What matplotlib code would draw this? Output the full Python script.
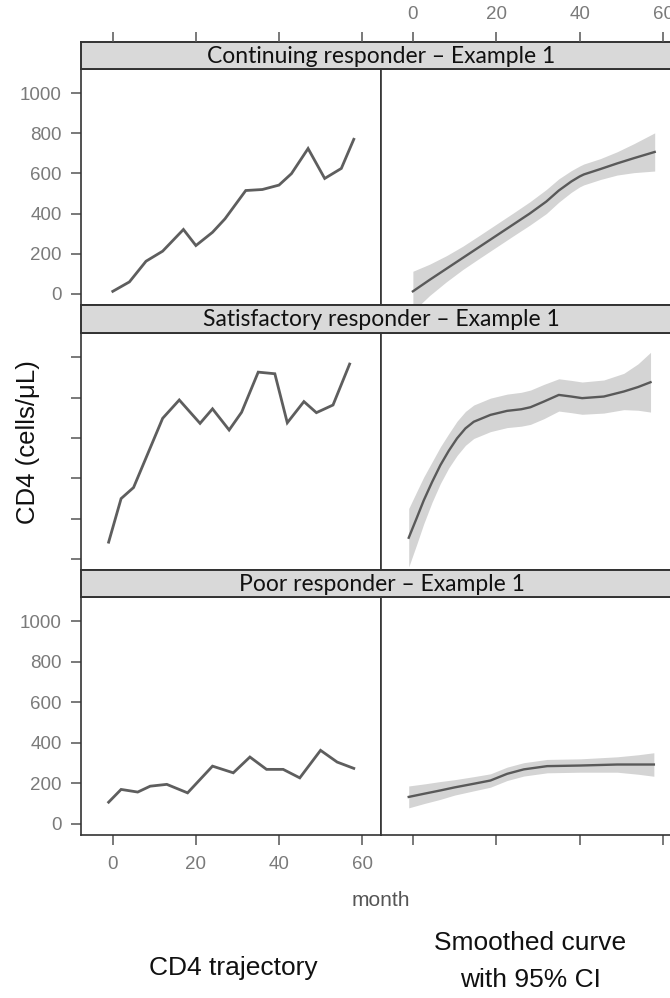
import matplotlib
matplotlib.use("Agg")
import matplotlib.pyplot as plt
import numpy as np

# ---- data -------------------------------------------------------------
strip_labels = [
    "Continuing responder \u2013 Example 1",
    "Satisfactory responder \u2013 Example 1",
    "Poor responder \u2013 Example 1",
]

# observed CD4 trajectories (month, cells/uL)
cont_month = [0, 4, 8, 12, 17, 20, 24, 27, 32, 36, 40, 43, 47, 51, 55, 58]
cont_cd4 = [13, 60, 163, 213, 321, 241, 307, 374, 515, 520, 542, 599, 724, 575, 625, 770]

sat_month = [-1, 2, 5, 12, 16, 21, 24, 28, 31, 35, 39, 42, 46, 49, 53, 57]
sat_cd4 = [83, 299, 354, 697, 788, 672, 744, 639, 727, 926, 918, 675, 780, 725, 763, 966]

poor_month = [-1, 2, 6, 9, 13, 18, 24, 29, 33, 37, 41, 45, 50, 54, 58]
poor_cd4 = [107, 170, 157, 186, 195, 153, 285, 252, 330, 269, 269, 227, 363, 305, 274]

# smoothed curves with 95% CI half-widths
cont_s_month = [0, 4, 8, 12, 16, 20, 24, 28, 32, 35, 38, 40, 41, 45, 49, 53, 58]
cont_s_fit = [13, 70, 125, 180, 235, 290, 345, 400, 460, 515, 560, 585, 595, 622, 650, 676, 707]
cont_s_hw = [100, 78, 65, 58, 57, 57, 57, 58, 60, 58, 54, 52, 52, 52, 58, 72, 95]

sat_s_month = [-1, 1, 2.6, 4.6, 6.6, 8.6, 10.6, 12.6, 14.6, 18.6, 22.6, 26, 28.2, 31.4,
               35, 38, 40.6, 45.8, 50.6, 54, 57]
sat_s_fit = [105, 207, 290, 381, 465, 536, 598, 647, 680, 714, 734, 742, 752, 780,
             813, 805, 797, 805, 830, 852, 876]
sat_s_hw = [145, 130, 116, 100, 91, 85, 85, 84, 83, 83, 83, 84, 85, 85,
            80, 80, 80, 82, 90, 115, 148]

poor_s_month = [-1, 3, 6.6, 10, 14.6, 18.6, 22.6, 26.6, 32.2, 40.2, 49, 54, 57.8]
poor_s_fit = [133, 150, 165, 180, 198, 214, 247, 269, 285, 288, 293, 293, 293]
poor_s_hw = [54, 48, 44, 38, 35, 33, 33, 33, 33, 33, 38, 48, 58]

raw = [(cont_month, cont_cd4), (sat_month, sat_cd4), (poor_month, poor_cd4)]
smooth = [(cont_s_month, cont_s_fit, cont_s_hw),
          (sat_s_month, sat_s_fit, sat_s_hw),
          (poor_s_month, poor_s_fit, poor_s_hw)]

y_ticks = [0, 200, 400, 600, 800, 1000]
x_ticks = [0, 20, 40, 60]

# ---- layout -------------------------------------------------------------
W, H = 670, 998
fig = plt.figure(figsize=(W / 100, H / 100), dpi=100)
fig.patch.set_facecolor("white")


def box(x0, y0, x1, y1):
    return [x0 / W, 1 - y1 / H, (x1 - x0) / W, (y1 - y0) / H]


XL = (-7.65, 64.55)
YL = (-55, 1120)
edge = "#333333"
tick_c = "#555555"
lab_c = "#7a7a7a"
line_c = "#5e5e5e"
band_c = "#d4d4d4"
strip_c = "#d9d9d9"
tick_len = 7.3
tick_w = 1.1
lab_size = 13.5
sans = ["Liberation Sans", "DejaVu Sans"]

strip_tops = [42, 305, 570]
panel_tops = [69, 333, 597]
panel_bots = [305, 570, 835]
xl, xm, xr = 81, 381, 682


def style_panel(ax):
    ax.set_xlim(*XL)
    ax.set_ylim(*YL)
    for s in ax.spines.values():
        s.set_color(edge)
        s.set_linewidth(1.2)
    ax.tick_params(which="both", direction="out", length=tick_len, width=tick_w,
                   color=tick_c, labelcolor=lab_c, labelsize=lab_size, pad=6.5)
    ax.set_xticks([])
    ax.set_yticks([])


for r in range(3):
    top, bot = panel_tops[r], panel_bots[r]
    axl = fig.add_axes(box(xl, top, xm, bot))
    axr = fig.add_axes(box(xm, top, xr, bot))
    style_panel(axl)
    style_panel(axr)

    m, v = raw[r]
    axl.plot(m, v, color=line_c, lw=2.0, solid_joinstyle="miter")

    sm, sf, sh = (np.asarray(a, dtype=float) for a in smooth[r])
    axr.fill_between(sm, sf - sh, sf + sh, color=band_c, lw=0)
    axr.plot(sm, sf, color="#595959", lw=1.7)

    # alternating y axis annotation on the left column
    axl.set_yticks(y_ticks)
    if r == 1:
        axl.set_yticklabels([])
    else:
        axl.set_yticklabels([str(t) for t in y_ticks], fontfamily=sans)

    if r == 2:
        axl.set_xticks(x_ticks)
        axl.set_xticklabels([str(t) for t in x_ticks], fontfamily=sans)
        axl.tick_params(axis="x", pad=7.5)
        axr.set_xticks(x_ticks)
        axr.set_xticklabels([])

    # strip across both columns
    st = fig.add_axes(box(xl, strip_tops[r], xr, top))
    st.set_facecolor(strip_c)
    st.set_xticks([])
    st.set_yticks([])
    for s in st.spines.values():
        s.set_color(edge)
        s.set_linewidth(1.4)
    st.text(0.5, 0.47, strip_labels[r], ha="center", va="center",
            transform=st.transAxes, fontsize=16.5, color="#111111",
            family=["Lato", "DejaVu Sans"])

# top axis ticks above the first strip
for x0, x1, labels in [(xl, xm, False), (xm, xr, True)]:
    ta = fig.add_axes(box(x0, strip_tops[0], x1, panel_tops[0]))
    ta.patch.set_alpha(0)
    for s in ta.spines.values():
        s.set_visible(False)
    ta.set_xlim(*XL)
    ta.set_yticks([])
    ta.xaxis.tick_top()
    ta.set_xticks(x_ticks)
    if labels:
        ta.set_xticklabels([str(t) for t in x_ticks], fontfamily=sans)
    else:
        ta.set_xticklabels([])
    ta.tick_params(axis="x", direction="out", length=tick_len, width=tick_w,
                   color=tick_c, labelcolor=lab_c, labelsize=lab_size, pad=6.5)

# axis titles and column captions
fig.text(381 / W, 1 - 900 / H, "month", ha="center", va="center",
         fontsize=15, color="#555555", family=sans)
fig.text(28 / W, 1 - 442 / H, "CD4 (cells/\u03bcL)", ha="center", va="center",
         rotation=90, fontsize=18.5, color="#111111", family=sans)
fig.text(233 / W, 1 - 968 / H, "CD4 trajectory", ha="center", va="center",
         fontsize=19, color="#111111", family=sans)
fig.text(530 / W, 1 - 943 / H, "Smoothed curve", ha="center", va="center",
         fontsize=19, color="#111111", family=sans)
fig.text(530 / W, 1 - 980 / H, "with 95% CI", ha="center", va="center",
         fontsize=19, color="#111111", family=sans)

fig.savefig("out.png", dpi=100)
